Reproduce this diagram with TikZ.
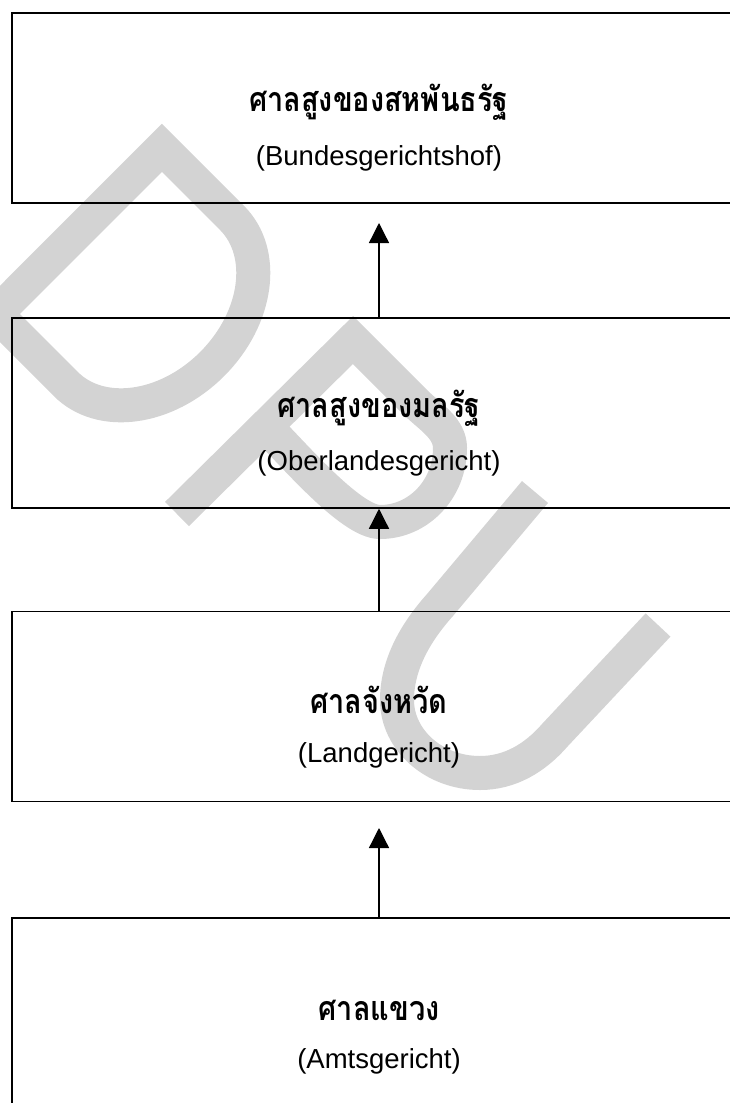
\documentclass[tikz,border=0pt]{standalone}
\usepackage{fontspec}
\setmainfont{Liberation Sans}
\newfontfamily\thaifont[Script=Thai,FakeStretch=0.85]{Loma}
\usetikzlibrary{arrows.meta}
\definecolor{wm}{RGB}{211,211,211}
\tikzset{
  box/.style={draw=black, line width=1.5pt, minimum width=734pt, minimum height=190pt, inner sep=0pt},
  thai/.style={font=\thaifont\bfseries\fontsize{34}{38}\selectfont, inner sep=0pt},
  latin/.style={font=\fontsize{27.5}{30}\selectfont, inner sep=0pt},
  uparrow/.style={line width=1.3pt, -{Triangle[width=20pt,length=20pt]}},
  wmstroke/.style={draw=wm, line width=34pt, line join=miter, line cap=butt},
}
\begin{document}
\begin{tikzpicture}[x=1pt,y=-1pt]
\useasboundingbox (0,0) rectangle (730,1103);
\clip (0,0) rectangle (730,1103);
\fill[white] (0,0) rectangle (730,1103);
% watermark D
\draw[wmstroke] (-4.2,314.0) -- (161.9,147.8) -- (231.9,217.8)
  .. controls (266.9,252.7) and (258.0,318.2) .. (212.1,364.1)
  .. controls (166.2,410.0) and (100.7,418.9) .. (65.8,384.0) -- cycle;
% watermark P
\draw[wmstroke] (177,514) -- (353,340) -- (415,402)
  .. controls (430,417) and (450,428) .. (450,448)
  .. controls (450,489) and (418.6,522) .. (380,522)
  .. controls (350,522) and (290,450) .. (266,427);
% watermark U
\draw[wmstroke] (535,492) -- (440,605)
  .. controls (415,633) and (397,665) .. (397,700)
  .. controls (397,740) and (434,773) .. (480,773)
  .. controls (510,773) and (535,758) .. (555,735) -- (658,625);
% boxes
\node[box] (b1) at (379,108) {};
\node[box] (b2) at (379,413) {};
\node[box] (b3) at (379,706.5) {};
\node[box] (b4) at (379,1013) {};
% texts
\node[thai]  (t1) at (379,102) {ศาลสูงของสหพันธรัฐ};
\node[latin] (l1) at (379,158) {(Bundesgerichtshof)};
\node[thai]  (t2) at (379,408) {ศาลสูงของมลรัฐ};
\node[latin] (l2) at (379,463) {(Oberlandesgericht)};
\node[thai]  (t3) at (379,700) {ศาลจังหวัด};
\node[latin] (l3) at (379,755) {(Landgericht)};
\node[thai]  (t4) at (379,1010) {ศาลแขวง};
\node[latin] (l4) at (379,1061) {(Amtsgericht)};
% arrows
\coordinate (a1) at (379,223);
\coordinate (a3) at (379,828);
\draw[uparrow] (b2.north) -- (a1);
\draw[uparrow] (b3.north) -- (b2.south);
\draw[uparrow] (b4.north) -- (a3);
\end{tikzpicture}
\end{document}
